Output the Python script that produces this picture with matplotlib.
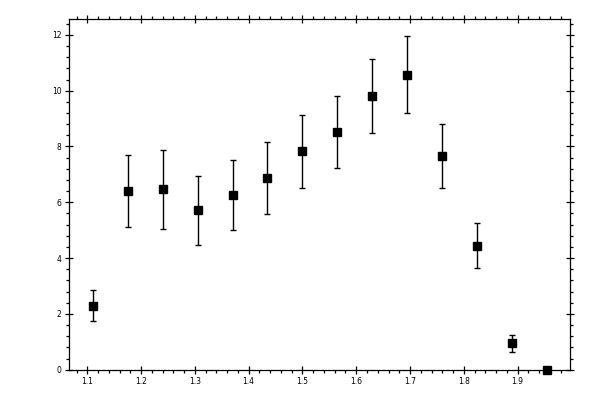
#!/usr/bin/env python3
"""Square markers with asymmetric error bars, old-style boxed axes."""

import numpy as np
import matplotlib
matplotlib.use("Agg")
import matplotlib.pyplot as plt
from matplotlib.ticker import MultipleLocator, FormatStrFormatter

X = [1.11, 1.175, 1.24, 1.305, 1.37, 1.435, 1.5, 1.565, 1.63, 1.695,
     1.76, 1.825, 1.89, 1.955]
Y = [2.28, 6.39, 6.47, 5.71, 6.25, 6.86, 7.83, 8.51, 9.80, 10.55,
     7.65, 4.42, 0.95, 0.0]
Y_LOW = [1.73, 5.10, 5.03, 4.46, 5.00, 5.57, 6.50, 7.22, 8.47, 9.19,
         6.50, 3.63, 0.62, 0.0]
Y_HIGH = [2.85, 7.68, 7.86, 6.93, 7.51, 8.15, 9.12, 9.80, 11.13, 11.95,
          8.80, 5.25, 1.23, 0.0]


def main():
    y = np.array(Y)
    yerr = [y - np.array(Y_LOW), np.array(Y_HIGH) - y]

    fig = plt.figure(figsize=(6, 4), dpi=100)
    ax = fig.add_axes([0.1155, 0.0758, 0.835, 0.876])

    ax.errorbar(X, Y, yerr=yerr, fmt="s", color="black", ms=5.4,
                elinewidth=1.0, capsize=2.0, capthick=1.0, clip_on=False,
                zorder=3)

    ax.set_xlim(1.0665, 1.998)
    ax.set_ylim(0, 12.56)

    ax.xaxis.set_major_locator(MultipleLocator(0.1))
    ax.xaxis.set_minor_locator(MultipleLocator(0.02))
    ax.xaxis.set_major_formatter(FormatStrFormatter("%.1f"))
    ax.yaxis.set_major_locator(MultipleLocator(2))
    ax.yaxis.set_minor_locator(MultipleLocator(0.4))
    ax.yaxis.set_major_formatter(FormatStrFormatter("%d"))

    ax.tick_params(which="major", direction="inout", length=6.2, width=0.9,
                   top=True, right=True, labelsize=5.5, pad=2.5)
    ax.tick_params(which="minor", direction="out", length=2.5, width=0.9,
                   top=True, right=True)
    for s in ax.spines.values():
        s.set_linewidth(0.9)

    fig.savefig("out.png", dpi=100)


if __name__ == "__main__":
    main()
